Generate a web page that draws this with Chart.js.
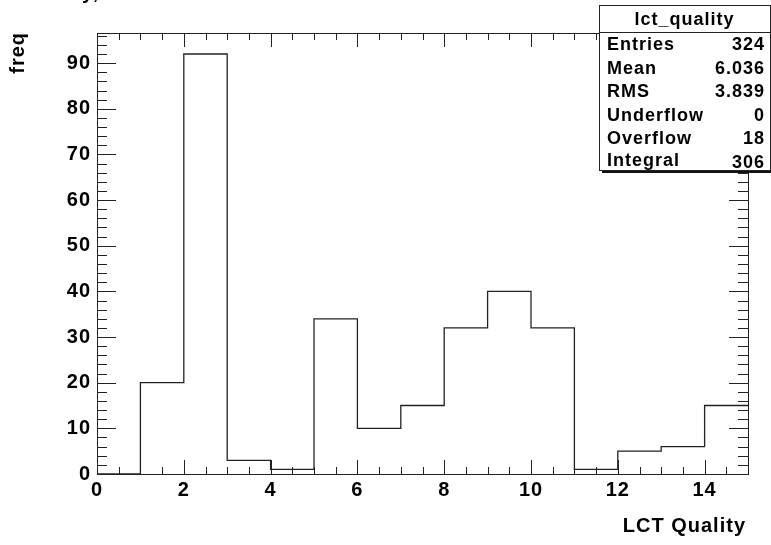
<!DOCTYPE html>
<html>
<head>
<meta charset="utf-8">
<script src="https://cdn.jsdelivr.net/npm/chart.js@4.4.1/dist/chart.umd.min.js"></script>
<style>
    body { margin: 0; background: #fff; }
    canvas { display: block; }
</style>
</head>
<body>
<canvas id="chart" width="771" height="545"></canvas>
<script>
// lct_quality histogram, 15 bins of width 1 from 0 to 15
const binEdges = [0, 1, 2, 3, 4, 5, 6, 7, 8, 9, 10, 11, 12, 13, 14, 15];
const binCounts = [0, 20, 92, 3, 1, 34, 10, 15, 32, 40, 32, 1, 5, 6, 15];

const xTickLabels = [0, 2, 4, 6, 8, 10, 12, 14];
const yTickLabels = [0, 10, 20, 30, 40, 50, 60, 70, 80, 90];

const statNames = ['Entries', 'Mean', 'RMS', 'Underflow', 'Overflow', 'Integral'];
const statValues = ['324', '6.036', '3.839', '0', '18', '306'];

const FONT = '"Liberation Sans", Arial, sans-serif';
const LINE = '#222';

function histPoints() {
    const pts = binCounts.map((c, i) => ({ x: binEdges[i], y: c }));
    // close the last bin at its right edge
    pts.push({ x: binEdges[binEdges.length - 1], y: binCounts[binCounts.length - 1] });
    return pts;
}

// inward ticks on all four sides, like ROOT's frame
function drawFrameTicks(chart) {
    const ctx = chart.ctx;
    const x = chart.scales.x;
    const y = chart.scales.y;
    const a = chart.chartArea;

    ctx.save();
    ctx.strokeStyle = LINE;
    ctx.lineWidth = 1;
    ctx.beginPath();

    for (let v = 0; v <= 15; v += 0.5) {
        const px = Math.round(x.getPixelForValue(v)) + 0.5;
        const len = (v % 2 === 0) ? 14 : 7;
        ctx.moveTo(px, a.bottom);
        ctx.lineTo(px, a.bottom - len);
        ctx.moveTo(px, a.top);
        ctx.lineTo(px, a.top + len);
    }
    for (let v = 0; v <= 96; v += 2) {
        const py = Math.round(y.getPixelForValue(v)) + 0.5;
        const len = (v % 10 === 0) ? 19 : 10;
        ctx.moveTo(a.left, py);
        ctx.lineTo(a.left + len, py);
        ctx.moveTo(a.right, py);
        ctx.lineTo(a.right - len, py);
    }
    ctx.stroke();

    ctx.strokeRect(Math.round(a.left) + 0.5, Math.round(a.top) + 0.5,
        Math.round(a.right - a.left), Math.round(a.bottom - a.top));
    ctx.restore();
}

function drawTitles(chart) {
    const ctx = chart.ctx;
    ctx.save();
    ctx.fillStyle = '#000';
    ctx.letterSpacing = '1px';
    ctx.font = 'bold 20px ' + FONT;

    // title, mostly off the top of the canvas
    ctx.textAlign = 'left';
    ctx.textBaseline = 'alphabetic';
    ctx.fillText('y,', 82, -1);

    ctx.textAlign = 'right';
    ctx.fillText('LCT Quality', 746, 532);

    ctx.translate(24, 32);
    ctx.rotate(-Math.PI / 2);
    ctx.textAlign = 'right';
    ctx.fillText('freq', 0, 0);
    ctx.restore();
}

function drawStatsBox(chart) {
    const ctx = chart.ctx;
    const left = 599, top = 5, right = 770, bottom = 170, headerBottom = 32;

    ctx.save();
    ctx.fillStyle = '#111';
    ctx.fillRect(left + 3, top + 3, right - left, bottom - top);
    ctx.fillStyle = '#fff';
    ctx.fillRect(left, top, right - left, bottom - top);
    ctx.strokeStyle = LINE;
    ctx.lineWidth = 1;
    ctx.strokeRect(left + 0.5, top + 0.5, right - left, bottom - top);
    ctx.beginPath();
    ctx.moveTo(left, headerBottom + 0.5);
    ctx.lineTo(right, headerBottom + 0.5);
    ctx.stroke();

    ctx.fillStyle = '#000';
    ctx.letterSpacing = '1px';
    ctx.font = 'bold 18px ' + FONT;
    ctx.textBaseline = 'alphabetic';
    ctx.textAlign = 'center';
    ctx.fillText('lct_quality', (left + right) / 2, 25);

    const baselines = [50, 74, 97, 121, 144, 166];
    statNames.forEach((name, i) => {
        ctx.textAlign = 'left';
        ctx.fillText(name, 607, baselines[i]);
        ctx.textAlign = 'right';
        ctx.fillText(statValues[i], 765, baselines[i] + (i === 5 ? 2 : 0));
    });
    ctx.restore();
}

const rootStyle = {
    id: 'rootStyle',
    beforeDraw(chart) {
        chart.ctx.letterSpacing = '1px';
    },
    afterDraw(chart) {
        drawFrameTicks(chart);
        drawTitles(chart);
        drawStatsBox(chart);
    }
};

new Chart(document.getElementById('chart'), {
    type: 'line',
    data: {
        datasets: [{
            label: 'lct_quality',
            data: histPoints(),
            stepped: 'before',
            borderColor: LINE,
            borderWidth: 1.3,
            pointRadius: 0,
            fill: false
        }]
    },
    options: {
        responsive: false,
        animation: false,
        devicePixelRatio: 1,
        layout: { padding: { top: 33, right: 23, left: 0, bottom: 0 } },
        plugins: {
            legend: { display: false },
            tooltip: { enabled: false }
        },
        scales: {
            x: {
                type: 'linear',
                min: 0,
                max: 15,
                grid: { display: false, drawTicks: false },
                border: { display: false },
                afterBuildTicks: (scale) => {
                    scale.ticks = xTickLabels.map((v) => ({ value: v }));
                },
                afterFit: (scale) => { scale.height = 71; },
                ticks: {
                    color: '#000',
                    font: { family: FONT, size: 20, weight: 'bold' },
                    padding: 4,
                    maxRotation: 0,
                    autoSkip: false
                }
            },
            y: {
                type: 'linear',
                min: 0,
                max: 96.6,
                grid: { display: false, drawTicks: false },
                border: { display: false },
                afterBuildTicks: (scale) => {
                    scale.ticks = yTickLabels.map((v) => ({ value: v }));
                },
                afterFit: (scale) => { scale.width = 97; },
                ticks: {
                    color: '#000',
                    font: { family: FONT, size: 20, weight: 'bold' },
                    padding: 6,
                    autoSkip: false
                }
            }
        }
    },
    plugins: [rootStyle]
});
</script>
</body>
</html>
